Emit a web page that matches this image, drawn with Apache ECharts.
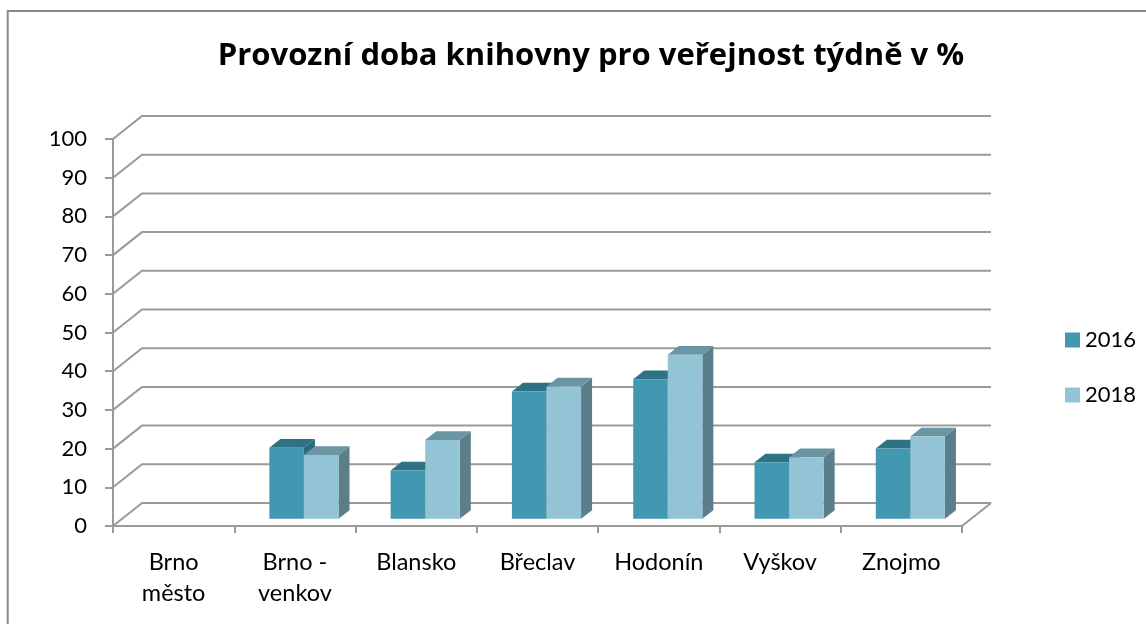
<!DOCTYPE html>
<html>
<head>
<meta charset="utf-8">
<script src="https://cdn.jsdelivr.net/npm/echarts@6/dist/echarts.min.js"></script>
<style>html,body{margin:0;padding:0;background:#fff;}#c{width:1146px;height:624px;}</style>
</head>
<body>
<div id="c"></div>
<script>
const categories = ['Brno\nměsto', 'Brno -\nvenkov', 'Blansko', 'Břeclav', 'Hodonín', 'Vyškov', 'Znojmo'];
const values2016 = [0, 18.4, 12.5, 32.9, 36.1, 14.6, 18.2];
const values2018 = [0, 16.5, 20.4, 34.2, 42.4, 15.9, 21.3];
const yTicks = [0, 10, 20, 30, 40, 50, 60, 70, 80, 90, 100];
const seriesNames = ['2016', '2018'];

const FONT = 'Lato, "Open Sans", sans-serif';
const TITLE_FONT = '"Open Sans", Lato, sans-serif';
const DX = 29, DY = -23;          // wall depth in pixels
const GRID_COLOR = '#9a9a9a';
const faces = [
  { front: '#4198B0', top: '#2E7385', side: '#2C6B7C' },
  { front: '#93C4D6', top: '#6A95A3', side: '#5B7E8A' }
];

function gridRender(params, api) {
  const cs = params.coordSys;
  const v = api.value(1);
  const y = api.coord([0, v])[1];
  const L = cs.x, R = cs.x + cs.width;
  const st = { stroke: GRID_COLOR, lineWidth: 2, fill: null };
  const children = [{
    type: 'polyline',
    shape: { points: [[L, y], [L + DX, y + DY], [R + DX, y + DY]] },
    style: st
  }];
  if (v === 0) {
    children.push({ type: 'line', shape: { x1: R, y1: y, x2: R + DX, y2: y + DY }, style: st });
  }
  return { type: 'group', children: children };
}

function barRender(s) {
  return function (params, api) {
    const i = api.value(0), v = api.value(1);
    if (!(v > 0)) return null;
    const band = api.size([1, 0])[0];
    const c = api.coord([i, v]);
    const base = api.coord([i, 0]);
    const ox = DX * 0.31, oy = DY * 0.31;
    const bw = band * 0.285;
    const x0 = c[0] + ox - bw + s * bw, x1 = x0 + bw;
    const yb = base[1] + oy, yt = c[1] + oy;
    const dx = DX * 0.38, dy = DY * 0.38;
    const f = faces[s];
    return {
      type: 'group',
      children: [
        { type: 'polygon', shape: { points: [[x1, yt], [x1 + dx, yt + dy], [x1 + dx, yb + dy], [x1, yb]] }, style: { fill: f.side } },
        { type: 'polygon', shape: { points: [[x0, yt], [x1, yt], [x1 + dx, yt + dy], [x0 + dx, yt + dy]] }, style: { fill: f.top } },
        { type: 'rect', shape: { x: x0, y: yt, width: bw, height: yb - yt }, style: { fill: f.front } }
      ]
    };
  };
}

const chart = echarts.init(document.getElementById('c'), null, { renderer: 'canvas' });
chart.setOption({
  animation: false,
  backgroundColor: '#fff',
  title: {
    text: 'Provozní doba knihovny pro veřejnost týdně v %',
    left: 586, textAlign: 'center', top: 36,
    textStyle: { fontFamily: TITLE_FONT, fontWeight: 'bold', fontSize: 31, color: '#000' }
  },
  graphic: [{
    type: 'rect', z: -10,
    shape: { x: 7.7, y: 11, width: 1300, height: 800 },
    style: { fill: null, stroke: '#8a8a8a', lineWidth: 2 }
  }],
  legend: {
    orient: 'vertical', left: 1060, top: 324,
    itemWidth: 15, itemHeight: 15, itemGap: 33,
    textStyle: { fontFamily: FONT, fontSize: 22, color: '#000' },
    data: [{ name: '2016', icon: 'rect' }, { name: '2018', icon: 'rect' }]
  },
  grid: { left: 113, right: 184, top: 139, bottom: 98 },
  xAxis: {
    type: 'category', data: categories, boundaryGap: true,
    axisLine: { lineStyle: { color: GRID_COLOR, width: 2 } },
    axisTick: { show: true, length: 7, alignWithLabel: false, lineStyle: { color: GRID_COLOR, width: 2 } },
    axisLabel: { margin: 21, interval: 0, fontFamily: FONT, fontSize: 23.5, lineHeight: 31, color: '#000' }
  },
  yAxis: {
    type: 'value', min: 0, max: 100, interval: 10,
    axisLine: { show: true, lineStyle: { color: GRID_COLOR, width: 2 } },
    axisTick: { show: true, length: 8, lineStyle: { color: GRID_COLOR, width: 2 } },
    axisLabel: { margin: 26, fontFamily: FONT, fontSize: 22, color: '#000' },
    splitLine: { show: false }
  },
  series: [
    {
      type: 'custom', name: 'grid', silent: true, clip: false, z: 1,
      renderItem: gridRender,
      data: yTicks.map(v => [0, v])
    },
    {
      type: 'custom', name: seriesNames[0], clip: false, z: 2,
      itemStyle: { color: faces[0].front },
      renderItem: barRender(0),
      data: values2016.map((v, i) => [i, v])
    },
    {
      type: 'custom', name: seriesNames[1], clip: false, z: 3,
      itemStyle: { color: faces[1].front },
      renderItem: barRender(1),
      data: values2018.map((v, i) => [i, v])
    }
  ]
});
</script>
</body>
</html>
